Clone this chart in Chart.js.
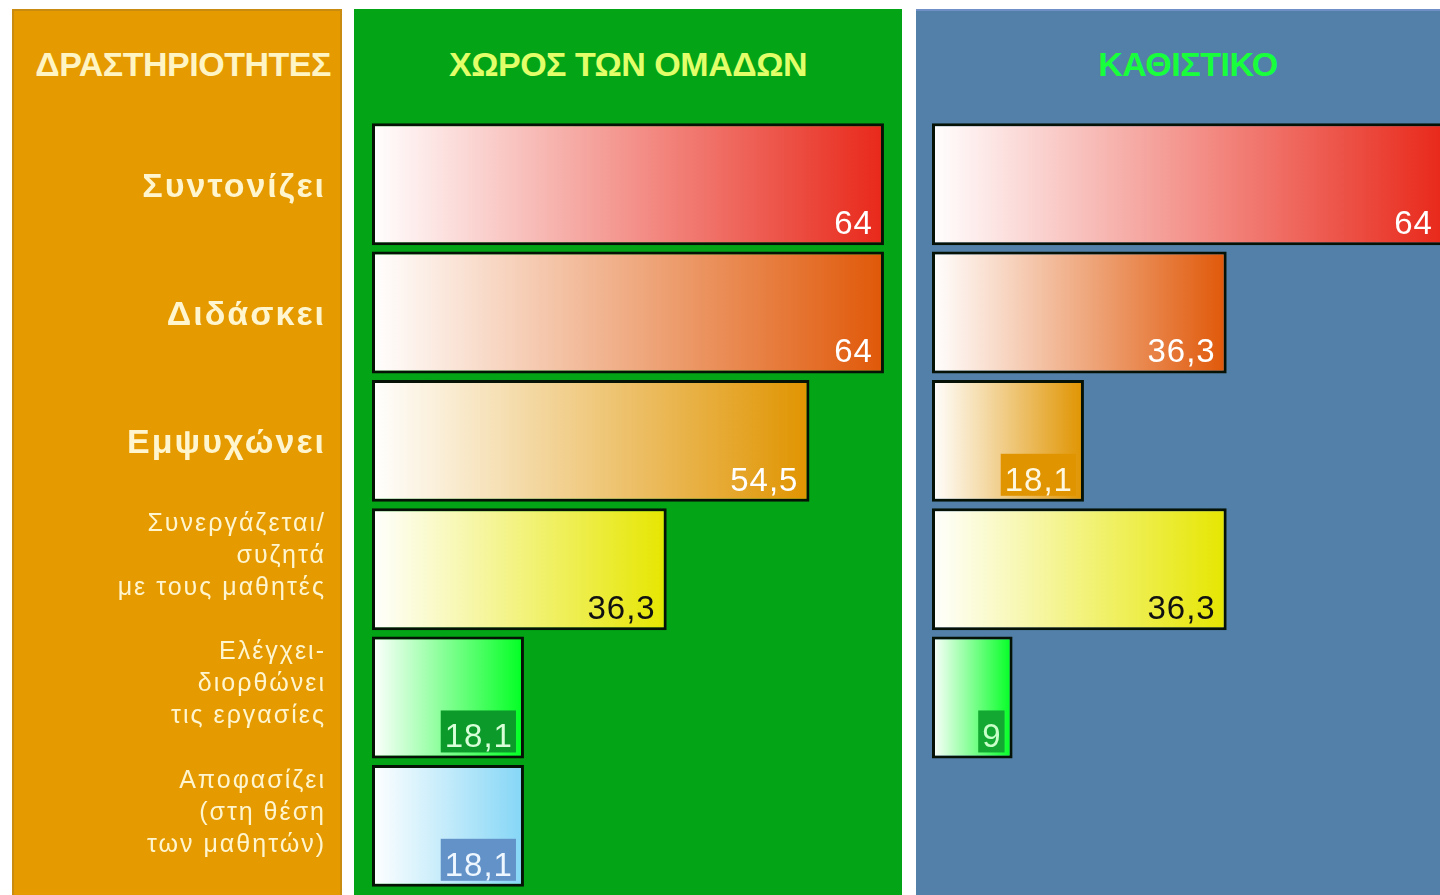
<!DOCTYPE html>
<html>
<head>
<meta charset="utf-8">
<script src="https://cdn.jsdelivr.net/npm/chart.js@4/dist/chart.umd.min.js"></script>
<style>
  html, body { margin: 0; padding: 0; background: #fff; }
  body { position: relative; width: 1440px; height: 895px; overflow: hidden; font-family: "Liberation Sans", Arial, sans-serif; }
  .panel { position: absolute; top: 9px; height: 886px; box-sizing: border-box; }
  #panelActivities { left: 12px; width: 330px; background: #e59a00; border: 2px solid #c98c10; border-bottom: none; }
  #panelGroups { left: 354px; width: 548px; background: #03a516; }
  #panelSeated { left: 916px; width: 540px; background: #5280a8; border-top: 2px solid #6e90c6; }
  .title { position: absolute; top: 44px; height: 40px; line-height: 40px; font-weight: bold; font-size: 34px; text-align: center; letter-spacing: -0.5px; }
  canvas { position: absolute; top: 110px; }
</style>
</head>
<body>
<div class="panel" id="panelActivities"></div>
<div class="panel" id="panelGroups"></div>
<div class="panel" id="panelSeated"></div>
<div class="title" style="left:12px;width:342px;color:#fff4c4">ΔΡΑΣΤΗΡΙΟΤΗΤΕΣ</div>
<div class="title" style="left:354px;width:548px;color:#e2ff6a">ΧΩΡΟΣ ΤΩΝ ΟΜΑΔΩΝ</div>
<div class="title" style="left:916px;width:544px;color:#18ff3c">ΚΑΘΙΣΤΙΚΟ</div>
<canvas id="groupsChart" width="890" height="785" style="left:12px"></canvas>
<canvas id="seatedChart" width="528" height="785" style="left:932px"></canvas>

<script>
// activities (categories)
const categories = [
  ['Συντονίζει'],
  ['Διδάσκει'],
  ['Εμψυχώνει'],
  ['Συνεργάζεται/', 'συζητά', 'με τους μαθητές'],
  ['Ελέγχει-', 'διορθώνει', 'τις εργασίες'],
  ['Αποφασίζει', '(στη θέση', 'των μαθητών)'],
];

// values per layout
const groupValues = [64, 64, 54.5, 36.3, 18.1, 18.1];
const seatedValues = [64, 36.3, 18.1, 36.3, 9, null];

// one colour per activity, bars fade in from white
const barColors = ['#e8281a', '#e05808', '#e09400', '#e6e600', '#00ff22', '#84d6f6'];

// value label styles
const groupLabelColors = ['#fff', '#fff', '#fff', '#111', '#d8ffd8', '#eef6ff'];
const groupLabelBoxes = [null, null, null, null, '#0c9a2a', '#6292c8'];
const seatedLabelColors = ['#fff', '#fff', '#fff8e0', '#111', '#c8ffc8'];
const seatedLabelBoxes = [null, null, '#e09400', null, '#12a832'];

const FONT = '"Liberation Sans", Arial, sans-serif';
// the original bars start a little left of zero
const AXIS_START = -1.275;

function barGradient(ctx) {
  const chart = ctx.chart;
  const color = barColors[ctx.dataIndex];
  if (!chart.chartArea || ctx.raw == null) return color;
  const xs = chart.scales.x;
  const x0 = xs.getPixelForValue(AXIS_START);
  const x1 = xs.getPixelForValue(ctx.raw);
  const g = chart.ctx.createLinearGradient(x0, 0, x1, 0);
  g.addColorStop(0, '#ffffff');
  g.addColorStop(1, color);
  return g;
}

const valueLabels = {
  id: 'valueLabels',
  afterDatasetsDraw(chart, args, opts) {
    const c = chart.ctx;
    const values = chart.data.datasets[0].data;
    c.save();
    c.letterSpacing = '1px';
    c.font = '33px ' + FONT;
    c.textAlign = 'right';
    c.textBaseline = 'alphabetic';
    chart.getDatasetMeta(0).data.forEach((bar, i) => {
      const v = values[i];
      if (v == null) return;
      const text = String(v).replace('.', ',');
      const right = bar.x - 11;
      const base = bar.y + bar.height / 2 - 11;
      const w = c.measureText(text).width;
      if (opts.boxes[i]) {
        c.fillStyle = opts.boxes[i];
        c.fillRect(right - w - 4, base - 37, w + 7, 42);
      }
      c.fillStyle = opts.colors[i];
      c.fillText(text, right, base);
    });
    c.restore();
  }
};

// spaced-out lettering for the activity names
const spacing = {
  id: 'spacing',
  beforeDraw(chart) { chart.ctx.letterSpacing = '2px'; },
  afterDraw(chart) { chart.ctx.letterSpacing = '0px'; }
};

function barDataset(values) {
  return {
    data: values,
    base: AXIS_START,
    backgroundColor: barGradient,
    borderColor: '#071207',
    borderWidth: 3,
    borderSkipped: false,
    barPercentage: 0.95,
    categoryPercentage: 1.0,
  };
}

new Chart(document.getElementById('groupsChart'), {
  type: 'bar',
  data: { labels: categories, datasets: [barDataset(groupValues)] },
  plugins: [spacing, valueLabels],
  options: {
    indexAxis: 'y',
    responsive: false,
    animation: false,
    layout: { padding: { top: 10, bottom: 5 } },
    plugins: {
      legend: { display: false },
      tooltip: { enabled: false },
      valueLabels: { colors: groupLabelColors, boxes: groupLabelBoxes },
    },
    scales: {
      x: { display: false, min: AXIS_START, max: 66.3 },
      y: {
        grid: { display: false, drawTicks: false },
        border: { display: false },
        afterFit(scale) {
          scale.width = 360;
          scale.paddingTop = 0;
          scale.paddingBottom = 0;
        },
        ticks: {
          autoSkip: false,
          padding: 46,
          labelOffset: 3,
          color: '#fff6d0',
          // multi-line names sit a bit above the bar centre
          callback: (v, i) => categories[i].length > 1 ? [...categories[i], ''] : categories[i],
          font: (ctx) => ctx.index < 3
            ? { family: FONT, size: 34, weight: 'bold' }
            : { family: FONT, size: 25, lineHeight: 1.28 },
        },
      },
    },
  },
});

new Chart(document.getElementById('seatedChart'), {
  type: 'bar',
  data: { labels: categories, datasets: [barDataset(seatedValues)] },
  plugins: [valueLabels],
  options: {
    indexAxis: 'y',
    responsive: false,
    animation: false,
    layout: { padding: { top: 10, bottom: 5 } },
    plugins: {
      legend: { display: false },
      tooltip: { enabled: false },
      valueLabels: { colors: seatedLabelColors, boxes: seatedLabelBoxes },
    },
    scales: {
      x: { display: false, min: AXIS_START, max: 66.05 },
      y: { display: false },
    },
  },
});
</script>
</body>
</html>
